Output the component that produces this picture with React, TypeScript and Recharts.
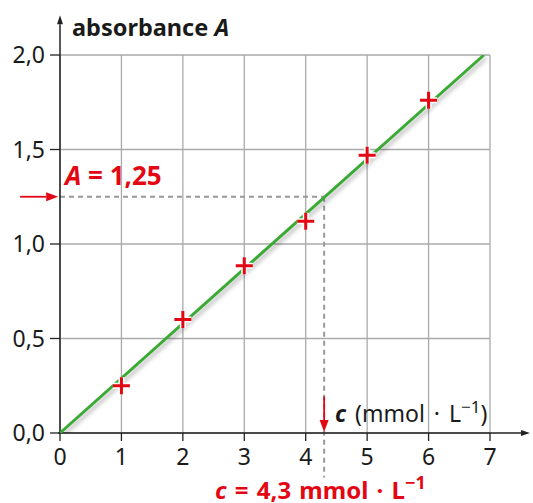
import { ComposedChart, Line, Scatter, XAxis, YAxis, CartesianGrid, ReferenceLine } from 'recharts';

document.body.style.margin = '0';

// mesures (c en mmol/L, absorbance A)
const concentrations = [1, 2, 3, 4, 5, 6];
const absorbances = [0.25, 0.6, 0.885, 1.12, 1.47, 1.76];

// droite d'étalonnage
const fitC = [0, 6.9];
const fitA = [0, 2.0];

const xTicks = [0, 1, 2, 3, 4, 5, 6, 7];
const yTicks = [0, 0.5, 1, 1.5, 2];

// lecture graphique
const readA = 1.25;
const readC = 4.3;

const RED = '#e30613';
const GREEN = '#3aaa35';

const points = concentrations.map((c, i) => ({ x: c, y: absorbances[i] }));
const fitLine = fitC.map((c, i) => ({ x: c, y: fitA[i] }));

function arrowShape(color: string, width: number, headLen: number, headHalf: number) {
  return (props: any) => {
    const { x1, y1, x2, y2 } = props;
    const ang = Math.atan2(y2 - y1, x2 - x1);
    const bx = x2 - headLen * Math.cos(ang);
    const by = y2 - headLen * Math.sin(ang);
    const px = -Math.sin(ang) * headHalf;
    const py = Math.cos(ang) * headHalf;
    return (
      <g>
        <line x1={x1} y1={y1} x2={bx} y2={by} stroke={color} strokeWidth={width} />
        <polygon points={`${x2},${y2} ${bx + px},${by + py} ${bx - px},${by - py}`} fill={color} />
      </g>
    );
  };
}

function Cross(props: any) {
  const { cx, cy } = props;
  const s = 8.5;
  const d = `M${cx - s},${cy} H${cx + s} M${cx},${cy - s} V${cy + s}`;
  return (
    <g>
      <path d={d} stroke="#fff" strokeWidth={6} />
      <path d={d} stroke={RED} strokeWidth={3} />
    </g>
  );
}

const fmt = (v: number) => v.toFixed(1).replace('.', ',');

export default function App() {
  return (
    <div style={{ position: 'relative', width: 533, height: 503, fontFamily: '"Noto Sans", sans-serif' }}>
      <ComposedChart width={533} height={503} margin={{ top: 55, right: 43, left: 0, bottom: 40 }}>
        <CartesianGrid stroke="#aaa" strokeWidth={1.3} />
        <XAxis
          type="number"
          dataKey="x"
          domain={[0, 7]}
          ticks={xTicks}
          interval={0}
          allowDataOverflow
          axisLine={false}
          tickLine={{ stroke: '#222', strokeWidth: 1.3 }}
          tickSize={8}
          tickMargin={8}
          tick={{ fill: '#1a1a1a', fontSize: 23 }}
          height={30}
        />
        <YAxis
          type="number"
          dataKey="y"
          domain={[0, 2]}
          ticks={yTicks}
          interval={0}
          allowDataOverflow
          axisLine={false}
          tickLine={{ stroke: '#222', strokeWidth: 1.3 }}
          tickSize={10}
          tickMargin={5}
          tickFormatter={fmt}
          tick={{ fill: '#1a1a1a', fontSize: 23 }}
          width={60}
        />
        {/* pointillés de lecture */}
        <ReferenceLine
          segment={[{ x: 0, y: readA }, { x: readC, y: readA }]}
          stroke="#999"
          strokeWidth={2}
          strokeDasharray="5 4"
          ifOverflow="visible"
        />
        <ReferenceLine
          segment={[{ x: readC, y: readA }, { x: readC, y: -0.235 }]}
          stroke="#999"
          strokeWidth={2}
          strokeDasharray="5 4"
          ifOverflow="visible"
        />
        {/* axes fléchés */}
        <ReferenceLine
          segment={[{ x: 0, y: 0 }, { x: 0, y: 2.21 }]}
          ifOverflow="visible"
          shape={arrowShape('#222', 1.5, 9, 3)}
        />
        <ReferenceLine
          segment={[{ x: -0.03, y: 0 }, { x: 7.65, y: 0 }]}
          ifOverflow="visible"
          shape={arrowShape('#222', 1.5, 9, 3)}
        />
        {/* flèches rouges */}
        <ReferenceLine
          segment={[{ x: -0.65, y: readA }, { x: -0.03, y: readA }]}
          ifOverflow="visible"
          shape={arrowShape(RED, 1.8, 12, 4.5)}
        />
        <ReferenceLine
          segment={[{ x: readC, y: 0.193 }, { x: readC, y: 0.005 }]}
          ifOverflow="visible"
          shape={arrowShape(RED, 1.8, 12, 4.5)}
        />
        <Line
          data={fitLine}
          dataKey="y"
          stroke={GREEN}
          strokeWidth={3}
          dot={false}
          activeDot={false}
          isAnimationActive={false}
          style={{ filter: 'drop-shadow(2px 3px 2px rgba(0,0,0,0.3))' }}
        />
        <Scatter data={points} dataKey="y" shape={<Cross />} isAnimationActive={false} />
      </ComposedChart>

      <svg
        width={533}
        height={503}
        style={{ position: 'absolute', left: 0, top: 0, pointerEvents: 'none' }}
        fontFamily='"Noto Sans", sans-serif'
      >
        <text x={72} y={36} fontSize={23.5} fontWeight="bold" fill="#1a1a1a">
          absorbance <tspan fontStyle="italic">A</tspan>
        </text>
        <text x={65} y={185} fontSize={26} fontWeight="bold" fill={RED}>
          <tspan fontStyle="italic">A</tspan> = 1,25
        </text>
        <text x={335} y={422} fontSize={23} wordSpacing={3} fill="#1a1a1a">
          <tspan fontWeight="bold" fontStyle="italic">c</tspan> (mmol · L
          <tspan fontSize={17} dy={-9}>−1</tspan>
          <tspan dy={9}>)</tspan>
        </text>
        <text x={215} y={499} fontSize={24} wordSpacing={2} fill={RED} fontWeight="bold">
          <tspan fontStyle="italic">c</tspan> = 4,3 mmol · L
          <tspan fontSize={18} dy={-10}>−1</tspan>
        </text>
      </svg>
    </div>
  );
}
